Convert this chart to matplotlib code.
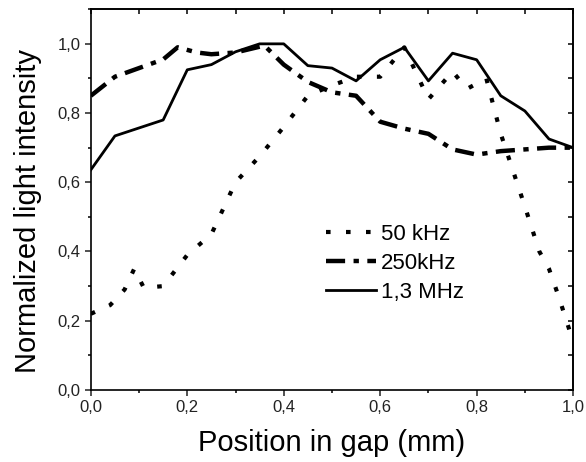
"""Normalized light intensity across the gap for three frequencies."""

import matplotlib.pyplot as plt
from matplotlib.ticker import MultipleLocator, FuncFormatter

plt.rcParams['font.family'] = ['Liberation Sans', 'DejaVu Sans']

# 50 kHz (dotted)
x_50k = [0.0, 0.04, 0.07, 0.09, 0.11, 0.15, 0.2, 0.25, 0.3, 0.35, 0.4, 0.45, 0.5, 0.55, 0.6,
         0.65, 0.7, 0.75, 0.78, 0.82, 0.85, 0.9, 0.93, 0.95, 0.97, 1.0]
y_50k = [0.22, 0.245, 0.29, 0.35, 0.295, 0.30, 0.39, 0.45, 0.60, 0.675, 0.76, 0.85, 0.88, 0.905, 0.905,
         0.99, 0.84, 0.92, 0.87, 0.90, 0.74, 0.53, 0.40, 0.35, 0.27, 0.14]

# 250 kHz (dash dot)
x_250k = [0.0, 0.05, 0.1, 0.15, 0.18, 0.22, 0.25, 0.3, 0.36, 0.4, 0.45, 0.5, 0.55, 0.6, 0.65,
          0.7, 0.75, 0.8, 0.85, 0.9, 0.95, 1.0]
y_250k = [0.85, 0.905, 0.93, 0.955, 0.99, 0.975, 0.97, 0.975, 0.995, 0.94, 0.89, 0.86, 0.85, 0.775, 0.755,
          0.74, 0.695, 0.68, 0.69, 0.695, 0.70, 0.70]

# 1,3 MHz (solid)
x_13m = [0.0, 0.05, 0.1, 0.15, 0.2, 0.25, 0.3, 0.35, 0.4, 0.45, 0.5, 0.55, 0.6, 0.65, 0.7,
         0.75, 0.8, 0.85, 0.9, 0.95, 1.0]
y_13m = [0.636, 0.734, 0.757, 0.78, 0.925, 0.94, 0.977, 1.0, 1.0, 0.937, 0.93, 0.893, 0.954, 0.99, 0.893,
         0.973, 0.954, 0.85, 0.806, 0.725, 0.70]

fig = plt.figure(figsize=(5.86, 4.62), dpi=100)
ax = fig.add_axes([0.155, 0.156, 0.823, 0.824])

ax.plot(x_50k, y_50k, color='black', lw=3.0, ls=(0, (1.1, 3.7)), label='50 kHz')
ax.plot(x_250k, y_250k, color='black', lw=3.2, ls=(0, (4.3, 1.9, 1.2, 1.9)), label='250kHz')
ax.plot(x_13m, y_13m, color='black', lw=2.0, ls='-', label='1,3 MHz')

ax.set_xlim(0, 1.0)
ax.set_ylim(0, 1.1)

"""comma as decimal separator"""
comma = FuncFormatter(lambda v, pos: ('%.1f' % v).replace('.', ','))
ax.xaxis.set_major_locator(MultipleLocator(0.2))
ax.xaxis.set_minor_locator(MultipleLocator(0.1))
ax.yaxis.set_major_locator(MultipleLocator(0.2))
ax.yaxis.set_minor_locator(MultipleLocator(0.1))
ax.xaxis.set_major_formatter(comma)
ax.yaxis.set_major_formatter(comma)
ax.tick_params(which='major', direction='out', length=4, width=1.1, labelsize=12, colors='#222222')
ax.tick_params(which='minor', direction='out', length=2.5, width=1.1)

"""inward ticks on top and right"""
top = ax.secondary_xaxis('top')
top.xaxis.set_major_locator(MultipleLocator(0.1))
top.tick_params(direction='in', length=3.5, width=1.1, labeltop=False)
right = ax.secondary_yaxis('right')
right.yaxis.set_major_locator(MultipleLocator(0.1))
right.tick_params(direction='in', length=3.5, width=1.1, labelright=False)

for s in list(ax.spines.values()) + [top.spines['top'], right.spines['right']]:
    s.set_linewidth(1.2)

ax.set_xlabel('Position in gap (mm)', fontsize=21, labelpad=10)
ax.set_ylabel('Normalized light intensity', fontsize=21)
ax.yaxis.set_label_coords(-0.102, 0.47)

ax.legend(loc='upper left', bbox_to_anchor=(0.47, 0.46), frameon=False, fontsize=16,
          handlelength=2.25, handletextpad=0.2, labelspacing=0.36, borderaxespad=0)

fig.savefig('out.png', dpi=100)
